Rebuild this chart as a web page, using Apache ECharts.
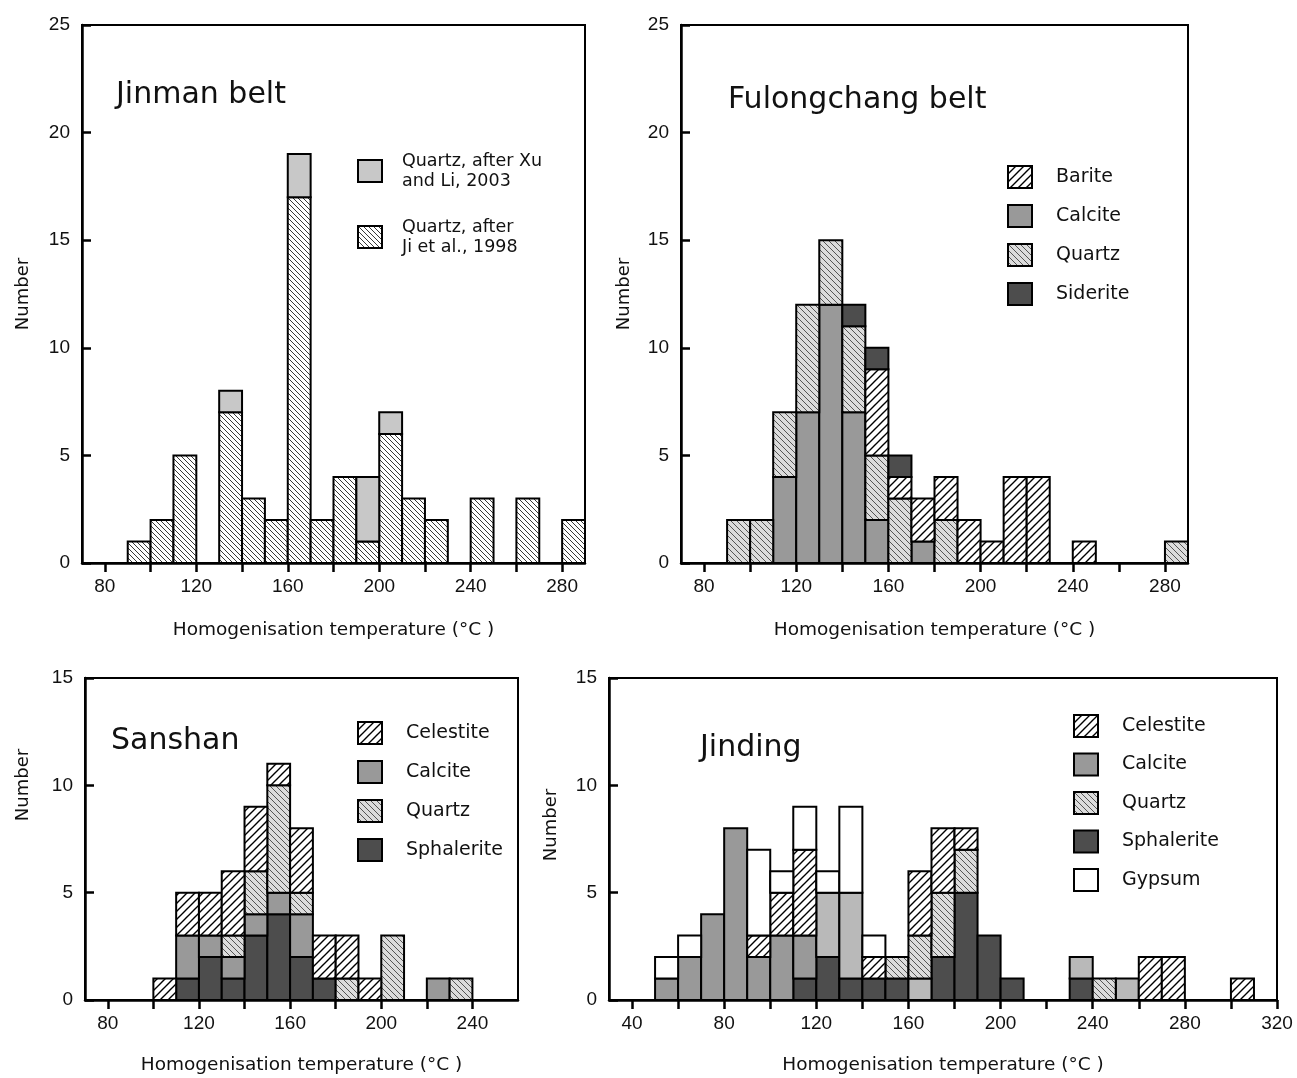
<!DOCTYPE html>
<html><head><meta charset="utf-8">
<script src="https://cdn.jsdelivr.net/npm/echarts@6/dist/echarts.min.js"></script>
<style>html,body{margin:0;padding:0;background:#fff}#c{width:1297px;height:1078px}</style>
</head><body><div id="c"></div>
<script>
// ---------------- DATA ----------------
const binWidth = 10;

// Jinman belt (bins by lower edge, °C)
const jinmanBins = [90,100,110,120,130,140,150,160,170,180,190,200,210,220,230,240,250,260,270,280];
const jinmanJi   = [1,2,5,null,7,3,2,17,2,4,1,6,3,2,null,3,null,3,null,2];
const jinmanXu   = [null,null,null,null,1,null,null,2,null,null,3,1,null,null,null,null,null,null,null,null];

// Fulongchang belt
const fulongBins     = [90,100,110,120,130,140,150,160,170,180,190,200,210,220,230,240,250,260,270,280];
const fulongCalcite  = [null,null,4,7,12,7,2,null,1,null,null,null,null,null,null,null,null,null,null,null];
const fulongQuartz   = [2,2,3,5,3,4,3,3,null,2,null,null,null,null,null,null,null,null,null,1];
const fulongBarite   = [null,null,null,null,null,null,4,1,2,2,2,1,4,4,null,1,null,null,null,null];
const fulongSiderite = [null,null,null,null,null,1,1,1,null,null,null,null,null,null,null,null,null,null,null,null];

// Sanshan
const sanshanBins       = [100,110,120,130,140,150,160,170,180,190,200,210,220,230];
const sanshanSphalerite = [null,1,2,1,3,4,2,1,null,null,null,null,null,null];
const sanshanCalcite    = [null,2,1,1,1,1,2,null,null,null,null,null,1,null];
const sanshanQuartz     = [null,null,null,1,2,5,1,null,1,null,3,null,null,1];
const sanshanCelestite  = [1,2,2,3,3,1,3,2,2,1,null,null,null,null];

// Jinding
const jindingBins       = [50,60,70,80,90,100,110,120,130,140,150,160,170,180,190,200,210,220,230,240,250,260,270,280,290,300];
const jindingSphalerite = [null,null,null,null,null,null,1,2,1,1,1,null,2,5,3,1,null,null,1,null,null,null,null,null,null,null];
const jindingCalcite    = [1,2,4,8,2,3,2,null,null,null,null,null,null,null,null,null,null,null,null,null,null,null,null,null,null,null];
const jindingPaleGrey   = [null,null,null,null,null,null,null,3,4,null,null,1,null,null,null,null,null,null,1,null,1,null,null,null,null,null];
const jindingQuartz     = [null,null,null,null,null,null,null,null,null,null,1,2,3,2,null,null,null,null,null,1,null,null,null,null,null,null];
const jindingCelestite  = [null,null,null,null,1,2,4,null,null,1,null,3,3,1,null,null,null,null,null,null,null,2,2,null,null,1];
const jindingGypsum     = [1,1,null,null,4,1,2,1,4,1,null,null,null,null,null,null,null,null,null,null,null,null,null,null,null,null];

// Axis tick / label values
const ticks70_290  = [80,100,120,140,160,180,200,220,240,260,280];
const labels70_290 = [80,120,160,200,240,280];
const ticks70_260  = [80,100,120,140,160,180,200,220,240];
const labels70_260 = [80,120,160,200,240];
const ticks30_320  = [40,60,80,100,120,140,160,180,200,220,240,260,280,300,320];
const labels30_320 = [40,80,120,160,200,240,280,320];

// ---------------- STYLE HELPERS ----------------
function hatch(dir, bg, fg, size, lw) {
  const c = document.createElement('canvas');
  c.width = c.height = size;
  const ctx = c.getContext('2d');
  ctx.fillStyle = bg; ctx.fillRect(0, 0, size, size);
  ctx.strokeStyle = fg; ctx.lineWidth = lw;
  ctx.beginPath();
  if (dir === '/') {
    ctx.moveTo(0, size); ctx.lineTo(size, 0);
    ctx.moveTo(-size/2, size/2); ctx.lineTo(size/2, -size/2);
    ctx.moveTo(size/2, size*1.5); ctx.lineTo(size*1.5, size/2);
  } else {
    ctx.moveTo(0, 0); ctx.lineTo(size, size);
    ctx.moveTo(size/2, -size/2); ctx.lineTo(size*1.5, size/2);
    ctx.moveTo(-size/2, size/2); ctx.lineTo(size/2, size*1.5);
  }
  ctx.stroke();
  return { image: c, repeat: 'repeat' };
}
const FILL = {
  celestite: hatch('/', '#ffffff', '#000000', 8, 1.4),
  quartz: hatch('\\', '#dcdcdc', '#555555', 6, 1),
  jiQuartz: hatch('\\', '#ffffff', '#222222', 5, 0.9),
  xuQuartz: '#c8c8c8',
  calcite: '#999999',
  pale: '#b9b9b9',
  dark: '#4d4d4d',
  gypsum: '#ffffff'
};

// Stacked histogram series: each bin drawn as a rectangle [lower edge, upper edge] x [stack base, stack top]
function stackedHistogram(gi, bins, layers) {
  const base = bins.map(() => 0);
  return layers.map(([name, vals, fill]) => {
    const data = [];
    bins.forEach((b, i) => {
      const v = vals[i];
      if (v) { data.push([b, b + binWidth, base[i], base[i] + v]); base[i] += v; }
    });
    return {
      type: 'custom', name: name, xAxisIndex: gi, yAxisIndex: gi,
      data: data, encode: { x: [0, 1], y: [2, 3] }, silent: true,
      itemStyle: { color: fill, borderColor: '#000', borderWidth: 2 },
      renderItem: (params, api) => {
        const p0 = api.coord([api.value(0), api.value(3)]);
        const p1 = api.coord([api.value(1), api.value(2)]);
        return { type: 'rect',
          shape: { x: p0[0], y: p0[1], width: p1[0] - p0[0], height: p1[1] - p0[1] },
          style: { fill: fill, stroke: '#000', lineWidth: 2 } };
      }
    };
  });
}

const series = [].concat(
  stackedHistogram(0, jinmanBins, [
    ['Quartz, after Ji et al., 1998', jinmanJi, FILL.jiQuartz],
    ['Quartz, after Xu and Li, 2003', jinmanXu, FILL.xuQuartz]]),
  stackedHistogram(1, fulongBins, [
    ['Calcite', fulongCalcite, FILL.calcite],
    ['Quartz', fulongQuartz, FILL.quartz],
    ['Barite', fulongBarite, FILL.celestite],
    ['Siderite', fulongSiderite, FILL.dark]]),
  stackedHistogram(2, sanshanBins, [
    ['Sphalerite', sanshanSphalerite, FILL.dark],
    ['Calcite', sanshanCalcite, FILL.calcite],
    ['Quartz', sanshanQuartz, FILL.quartz],
    ['Celestite', sanshanCelestite, FILL.celestite]]),
  stackedHistogram(3, jindingBins, [
    ['Sphalerite', jindingSphalerite, FILL.dark],
    ['Calcite', jindingCalcite, FILL.calcite],
    ['Calcite (pale)', jindingPaleGrey, FILL.pale],
    ['Quartz', jindingQuartz, FILL.quartz],
    ['Celestite', jindingCelestite, FILL.celestite],
    ['Gypsum', jindingGypsum, FILL.gypsum]])
);

const grids = [
  { left: 82,  top: 25,  width: 503, height: 538 },
  { left: 681, top: 25,  width: 507, height: 538 },
  { left: 85,  top: 678, width: 433, height: 322 },
  { left: 609, top: 678, width: 668, height: 322 }
];
const xRanges = [[70, 290, ticks70_290, labels70_290], [70, 290, ticks70_290, labels70_290],
                 [70, 260, ticks70_260, labels70_260], [30, 320, ticks30_320, labels30_320]];
const yMax = [25, 25, 15, 15];
const xNameGap = [58, 58, 56, 56];
const yNameGap = [50, 48, 53, 49];
const yNamePad = [[0,0,0,0], [0,0,0,0], [0,0,0,108], [0,0,0,28]];

const txt = '#111';
const wide = 'DejaVu Sans, Verdana, sans-serif';
const option = {
  animation: false,
  textStyle: { fontFamily: 'Liberation Sans, Arial, sans-serif', color: txt },
  grid: grids.map(g => Object.assign({ show: true, borderColor: '#000', borderWidth: 2, containLabel: false }, g)),
  xAxis: xRanges.map((r, i) => ({
    type: 'value', gridIndex: i, min: r[0], max: r[1],
    axisLine: { show: true, onZero: false, lineStyle: { color: '#000', width: 2.5 } },
    axisTick: { show: true, inside: false, length: 9, customValues: r[2], lineStyle: { color: '#000', width: 2.5 } },
    axisLabel: { customValues: r[3], fontSize: 19, color: txt, margin: 14 },
    splitLine: { show: false },
    name: 'Homogenisation temperature (°C )', nameLocation: 'middle', nameGap: xNameGap[i],
    nameTextStyle: { fontSize: 18.5, color: txt, fontFamily: wide }
  })),
  yAxis: yMax.map((m, i) => ({
    type: 'value', gridIndex: i, min: 0, max: m, interval: 5,
    axisLine: { show: true, lineStyle: { color: '#000', width: 2.5 } },
    axisTick: { show: true, inside: true, length: 9, lineStyle: { color: '#000', width: 2.5 } },
    axisLabel: { fontSize: 19, color: txt, margin: 12 },
    splitLine: { show: false },
    name: 'Number', nameLocation: 'middle', nameGap: yNameGap[i],
    nameTextStyle: { fontSize: 18, color: txt, fontFamily: wide, padding: yNamePad[i] }
  })),
  title: [
    { text: 'Jinman belt', left: 116, top: 80 },
    { text: 'Fulongchang belt', left: 728, top: 85 },
    { text: 'Sanshan', left: 111, top: 726 },
    { text: 'Jinding', left: 700, top: 733 }
  ].map(t => Object.assign({ padding: 0, textStyle: { fontSize: 30, fontWeight: 'normal', color: txt, fontFamily: wide } }, t)),
  legend: [
    { data: ['Quartz, after Xu and Li, 2003', 'Quartz, after Ji et al., 1998'],
      left: 357, top: 151, itemGap: 26,
      formatter: n => n === 'Quartz, after Xu and Li, 2003' ? 'Quartz, after Xu\nand Li, 2003' : 'Quartz, after\nJi et al., 1998',
      textStyle: { fontSize: 17.5, lineHeight: 20, color: txt, fontFamily: wide, padding: [0, 0, 0, 15] } },
    { data: ['Barite', 'Calcite', 'Quartz', 'Siderite'], left: 1007, top: 165, itemGap: 15,
      textStyle: { fontSize: 19, lineHeight: 22, color: txt, fontFamily: wide, padding: [0, 0, 0, 19] } },
    { data: ['Celestite', 'Calcite', 'Quartz', 'Sphalerite'], left: 357, top: 721, itemGap: 15,
      textStyle: { fontSize: 19, lineHeight: 22, color: txt, fontFamily: wide, padding: [0, 0, 0, 19] } },
    { data: ['Celestite', 'Calcite', 'Quartz', 'Sphalerite', 'Gypsum'], left: 1073, top: 714, itemGap: 14.5,
      textStyle: { fontSize: 19, lineHeight: 22, color: txt, fontFamily: wide, padding: [0, 0, 0, 19] } }
  ].map(l => Object.assign({ orient: 'vertical', icon: 'rect', itemWidth: 24, itemHeight: 22, padding: 0,
      selectedMode: false, itemStyle: { borderColor: '#000', borderWidth: 2 } }, l)),
  series: series
};

const chart = echarts.init(document.getElementById('c'), null, { renderer: 'canvas' });
chart.setOption(option);
</script>
</body></html>
